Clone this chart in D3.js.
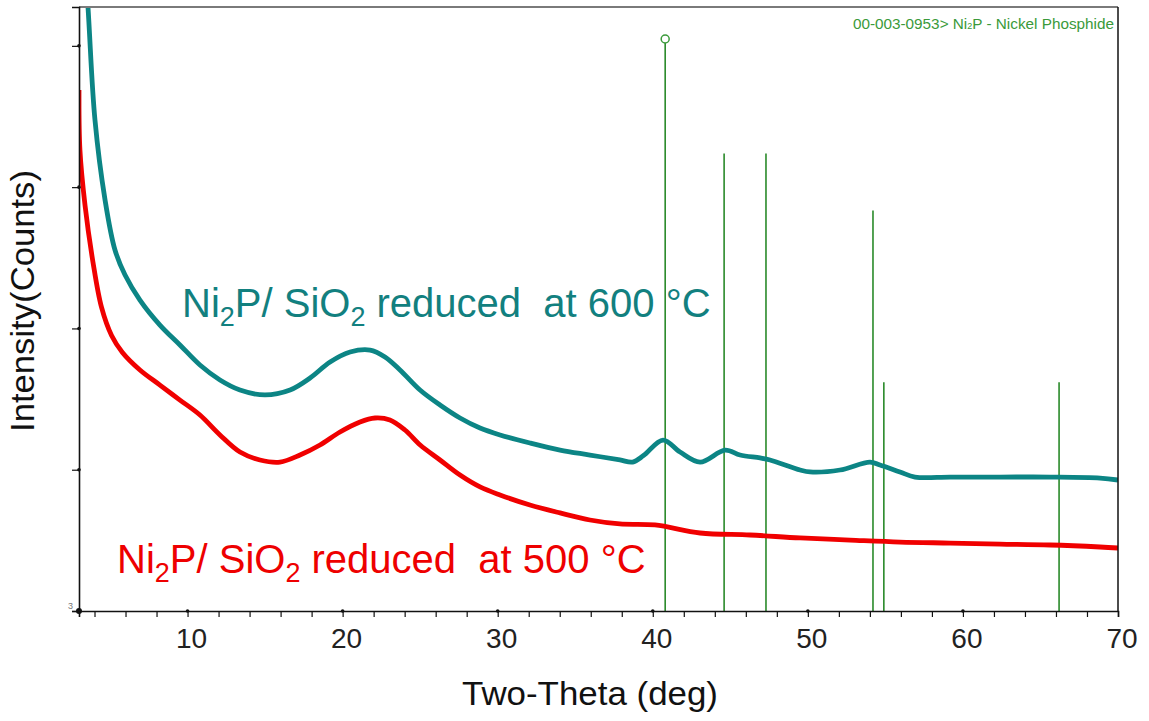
<!DOCTYPE html>
<html><head><meta charset="utf-8">
<script src="https://cdn.jsdelivr.net/npm/d3@7"></script>
<style>
body{margin:0;background:#fff}
text{font-family:"Liberation Sans",Arial,sans-serif}
</style>
</head><body>
<svg id="chart" width="1149" height="721"></svg>
<script>
// ---- data (two-theta in deg, intensity in counts) ----
const teal600X = [3.0,3.58,4.03,4.68,5.32,5.97,6.93,8.22,9.51,10.80,12.09,13.38,14.99,16.61,17.90,19.19,20.48,21.77,22.73,23.70,24.99,26.28,27.57,28.86,30.15,32.08,34.02,35.95,37.88,38.7,39.4,40.66,41.76,43.05,44.66,45.63,46.92,47.56,49.50,50.14,52.07,54.01,54.65,55.94,56.91,59.17,62.39,65.62,68.84,70.0];
const teal600Y = [530,430.5,350.5,293.9,258.5,240.8,223.1,205.4,191.3,177.1,166.5,159.4,155.9,159.4,167.9,179.2,186.3,187.7,182.8,173.6,159.4,148.8,139.6,132.5,127.6,121.9,116.9,113.4,109.9,108.4,113.0,124.0,115.5,108.4,116.9,113.4,111.3,109.9,102.8,101.4,102.8,108.4,106.3,101.4,97.8,97.8,97.8,97.8,97.1,95.7];
const red500X = [3.0,3.06,3.39,3.90,4.45,5.1,5.8,6.93,8.22,9.51,10.80,12.09,13.38,14.67,15.96,17.25,18.54,19.83,21.12,22.09,23.05,24.02,25.0,26.28,27.57,28.86,30.15,32.08,34.02,35.95,37.88,40.14,43.05,46.27,49.5,52.72,55.94,59.17,62.39,65.62,68.84,70.0];
const red500Y = [371.7,329.3,290.0,250.0,218.0,198.0,186.0,173.6,162.9,152.3,141.7,127.6,115.5,109.9,108.4,113.4,120.5,129.7,136.8,139.6,138.2,131.1,120.5,109.9,99.2,90.8,85.1,78.0,72.4,67.4,64.6,63.9,58.2,56.8,54.7,53.2,51.8,51.1,50.4,49.7,48.3,47.6];
// reference pattern 00-003-0953 Ni2P (relative intensity %)
const stickPos = [40.8,44.6,47.3,54.2,54.9,66.2];
const stickInt = [100,80,80,70,40,40];
const xMinor = d3.range(4,71,2);
const xMajor = [10,20,30,40,50,60,70];
const yTicks = [3,103,203,303,403];
const yTickLabels = ["3","","","",""];

// ---- layout ----
const svg = d3.select("#chart");
const L=79, R=1118, T=7, B=611;
const x = d3.scaleLinear().domain([3,70]).range([L,R]);
const y = d3.scaleLinear().domain([3,430.5]).range([B,T]);
const yS = d3.scaleLinear().domain([0,100]).range([B,39]);

svg.append("defs").append("clipPath").attr("id","clip")
  .append("rect").attr("x",L).attr("y",T).attr("width",R-L).attr("height",B-T);

// sticks
const stickColor="#2a8a2a";
const sticks = svg.append("g");
stickPos.forEach((p,i)=>{
  sticks.append("line").attr("x1",x(p)).attr("x2",x(p)).attr("y1",B).attr("y2",yS(stickInt[i]))
    .attr("stroke",stickColor).attr("stroke-width",1.6);
});
const maxI = d3.maxIndex(stickInt);
sticks.append("circle").attr("cx",x(stickPos[maxI])).attr("cy",yS(stickInt[maxI])).attr("r",4)
  .attr("fill","#fff").attr("stroke","#3a9a3a").attr("stroke-width",1.5);

// curves
const line = d3.line().x(d=>x(d[0])).y(d=>y(d[1])).curve(d3.curveCatmullRom.alpha(0.5));
const g = svg.append("g").attr("clip-path","url(#clip)");
g.append("path").attr("d",line(red500X.map((v,i)=>[v,red500Y[i]])))
  .attr("fill","none").attr("stroke","#f00000").attr("stroke-width",4.8).attr("stroke-linejoin","round");
g.append("path").attr("d",line(teal600X.map((v,i)=>[v,teal600Y[i]])))
  .attr("fill","none").attr("stroke","#0c8585").attr("stroke-width",4.8).attr("stroke-linejoin","round");

// frame
svg.append("line").attr("x1",L).attr("x2",R).attr("y1",T).attr("y2",T).attr("stroke","#7a7a7a").attr("stroke-width",2);
svg.append("line").attr("x1",R).attr("x2",R).attr("y1",T).attr("y2",B).attr("stroke","#111").attr("stroke-width",1.5);

// x axis
const xAxis = svg.append("g").attr("transform",`translate(0,${B})`)
  .call(d3.axisBottom(x).tickValues(xMinor).tickSize(6).tickFormat(""));
xAxis.select(".domain").attr("stroke","#111").attr("stroke-width",1.6);
xAxis.selectAll(".tick line").attr("stroke","#111").attr("stroke-width",1.2);
svg.append("g").selectAll("text").data(xMajor).join("text")
  .attr("x",d=>x(d)+4).attr("y",648).attr("text-anchor","middle")
  .attr("font-size",28).attr("fill","#222").text(d=>d);
svg.append("g").selectAll("circle").data(xMajor.slice(0,-1)).join("circle")
  .attr("cx",d=>x(d)).attr("cy",B).attr("r",1.8).attr("fill","#111");

// y axis
const yAxis = svg.append("g").attr("transform",`translate(${L},0)`)
  .call(d3.axisLeft(y).tickValues(yTicks).tickSize(7).tickFormat(""));
yAxis.select(".domain").attr("stroke","#111").attr("stroke-width",1.6);
yAxis.selectAll(".tick line").attr("stroke","#111").attr("stroke-width",1.2);
svg.append("g").selectAll("circle").data(yTicks.slice(1)).join("circle")
  .attr("cx",L).attr("cy",d=>y(d)).attr("r",1.8).attr("fill","#111");
svg.append("circle").attr("cx",L).attr("cy",B).attr("r",3).attr("fill","#111");
svg.append("g").selectAll("text").data(yTicks).join("text")
  .attr("x",L-6).attr("y",d=>y(d)-2).attr("text-anchor","end")
  .attr("font-size",9).attr("fill","#777").text((d,i)=>yTickLabels[i]);

// axis titles
svg.append("text").attr("x",462).attr("y",705)
  .attr("font-size",33).attr("fill","#111")
  .attr("textLength",256).attr("lengthAdjust","spacingAndGlyphs").text("Two-Theta (deg)");
svg.append("text").attr("transform","translate(34,432) rotate(-90)")
  .attr("font-size",33).attr("fill","#111")
  .attr("textLength",262).attr("lengthAdjust","spacingAndGlyphs").text("Intensity(Counts)");

// pattern label
const pl = svg.append("text").attr("x",1114).attr("y",29).attr("text-anchor","end")
  .attr("font-size",15.3).attr("fill","#3a9a3a");
pl.append("tspan").text("00-003-0953> Ni");
pl.append("tspan").attr("font-size",9).text("2");
pl.append("tspan").text("P - Nickel Phosphide");

// sample labels
function sampleLabel(xp, yp, temp, color){
  const t = svg.append("text").attr("x",xp).attr("y",yp).attr("font-size",40)
    .attr("fill",color).style("white-space","pre");
  t.append("tspan").text("Ni");
  t.append("tspan").attr("font-size",27).attr("dy",9).text("2");
  t.append("tspan").attr("dy",-9).text("P/ SiO");
  t.append("tspan").attr("font-size",27).attr("dy",9).text("2");
  t.append("tspan").attr("dy",-9).text(" reduced  at " + temp + " \u00B0C");
}
const sampleTemps = ["600","500"];
sampleLabel(182,317,sampleTemps[0],"#12807f");
sampleLabel(117,573,sampleTemps[1],"#ee0000");
</script>
</body></html>
